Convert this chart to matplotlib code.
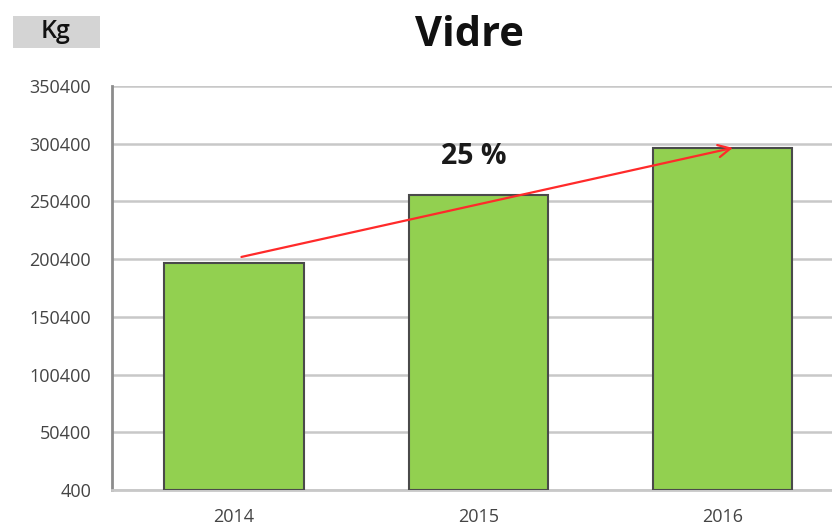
import matplotlib
matplotlib.use("Agg")
import matplotlib.pyplot as plt
from matplotlib.patches import Rectangle

years = ["2014", "2015", "2016"]
values = [197100, 256000, 296800]
yticks = [400, 50400, 100400, 150400, 200400, 250400, 300400, 350400]
pct_label = "25 %"

plt.rcParams['font.family'] = ['Open Sans', 'DejaVu Sans']

fig = plt.figure(figsize=(8.32, 5.25), dpi=100)
ax = fig.add_axes([112/832, 1-490/525, (844.5-112)/832, (490-86)/525])

x = list(range(len(years)))
ax.bar(x, values, width=0.57, color="#92d050", edgecolor="#4a4a4a", linewidth=1.5, zorder=3)
ax.set_xlim(-0.5, 2.5)
ax.set_ylim(400, 350400)
ax.set_yticks(yticks)
ax.set_yticklabels([str(v) for v in yticks], color="#444444", fontsize=13)
ax.set_xticks(x)
ax.set_xticklabels(years, color="#444444", fontsize=13)
ax.tick_params(length=0)
ax.tick_params(axis='x', pad=13)
ax.tick_params(axis='y', pad=15)
ax.yaxis.grid(True, color="#c8c8c8", linewidth=1.8, zorder=0)
ax.set_axisbelow(True)
for s in ["top", "right"]:
    ax.spines[s].set_visible(False)
ax.spines["left"].set_color("#8c8c8c")
ax.spines["left"].set_linewidth(2)
ax.spines["bottom"].set_color("#c8c8c8")
ax.spines["bottom"].set_linewidth(2)

# trend arrow
ax.annotate("", xy=(2.043, values[2]), xytext=(0.03, 202300),
            arrowprops=dict(arrowstyle="->", color="#ff2a2a", lw=1.6,
                            mutation_scale=22, shrinkA=0, shrinkB=0), zorder=5)
ax.text(0.98, 289000, pct_label, ha="center", va="center", fontsize=20.5,
        fontweight="bold", color="#1a1a1a", zorder=6)

fig.text(469/832, 1-35/525, "Vidre", ha="center", va="center", fontsize=30,
         fontweight="bold", fontstretch="condensed", color="#111111")

fig.patches.append(Rectangle((13/832, 1-48/525), 87/832, 32/525, transform=fig.transFigure,
                             facecolor="#d4d4d4", edgecolor="none"))
fig.text(56/832, 1-31/525, "Kg", ha="center", va="center", fontsize=18,
         fontweight="semibold", color="#111111")

fig.savefig("out.png", dpi=100)
